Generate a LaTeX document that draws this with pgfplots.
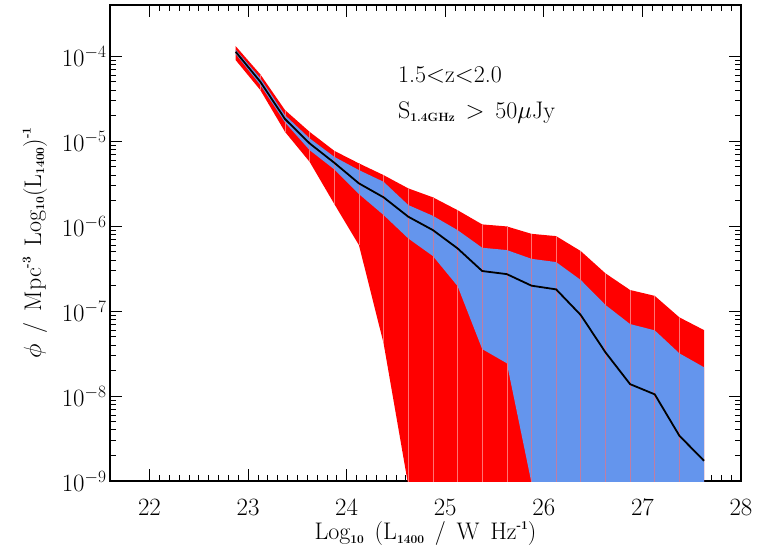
\documentclass[border=0pt]{standalone}
\usepackage{pgfplots}
\pgfplotsset{compat=1.18}
\usepackage{pgfplotstable}
\usepgfplotslibrary{fillbetween}
\definecolor{cblue}{RGB}{100,149,237}
\definecolor{seamr}{RGB}{255,115,115}
\definecolor{seamb}{RGB}{190,125,165}
\newcommand{\lsub}[1]{\raisebox{-0.3ex}{\fontsize{12}{12}\selectfont\bfseries #1}}
\newcommand{\lsup}[1]{\raisebox{1.0ex}{\fontsize{12}{12}\selectfont\bfseries #1}}
\newcommand{\lsp}{\hspace{0.45em}}

\pgfplotstableread{
x      rt        bt        bk        bb        rb
22.875 1.31e-4   1.19e-4   1.125e-4  1.06e-4   8.97e-5
23.125 6.10e-5   5.50e-5   4.99e-5   4.57e-5   3.98e-5
23.375 2.32e-5   2.02e-5   1.82e-5   1.66e-5   1.285e-5
23.625 1.285e-5  1.076e-5  9.40e-6   7.83e-6   5.70e-6
23.875 7.69e-6   6.53e-6   5.56e-6   4.65e-6   1.82e-6
24.125 5.47e-6   4.56e-6   3.18e-6   2.38e-6   5.97e-7
24.375 3.98e-6   3.32e-6   2.18e-6   1.35e-6   4.17e-8
24.625 2.78e-6   1.77e-6   1.29e-6   7.16e-7   8.9e-10
24.875 2.18e-6   1.32e-6   8.97e-7   4.44e-7   1e-12
25.125 1.54e-6   8.97e-7   5.47e-7   1.97e-7   1e-12
25.375 1.047e-6  5.56e-7   2.96e-7   3.57e-8   1e-12
25.625 9.91e-7   5.22e-7   2.72e-7   2.43e-8   1e-12
25.875 8.11e-7   4.12e-7   1.99e-7   9.5e-10   1e-12
26.125 7.62e-7   3.77e-7   1.80e-7   1e-12     1e-12
26.375 5.08e-7   2.32e-7   8.97e-8   1e-12     1e-12
26.625 2.78e-7   1.18e-7   3.27e-8   1e-12     1e-12
26.875 1.77e-7   7.03e-8   1.38e-8   1e-12     1e-12
27.125 1.51e-7   5.93e-8   1.047e-8  1e-12     1e-12
27.375 8.43e-8   3.18e-8   3.41e-9   1e-12     1e-12
27.625 5.97e-8   2.18e-8   1.73e-9   1e-12     1e-12
}\lf

\begin{document}
\begin{tikzpicture}
\begin{axis}[
  scale only axis, width=631pt, height=476pt,
  xmin=21.6, xmax=28, ymode=log, ymin=1e-9, ymax=4e-4,
  xtick={22,23,24,25,26,27,28}, minor x tick num=9,
  ytick={1e-9,1e-8,1e-7,1e-6,1e-5,1e-4},
  tick align=inside, major tick length=12pt, minor tick length=6pt,
  every tick/.style={black, line width=0.7pt},
  axis line style={line width=1.1pt},
  tick label style={font=\fontsize{24}{28}\selectfont},
  xticklabel style={anchor=center, yshift=-26pt},
  yticklabel style={xshift=0pt},
  label style={font=\fontsize{24}{28}\selectfont},
  xlabel={Log\lsub{10}\lsp(L\lsub{1400}\lsp/\lsp W\lsp Hz\lsup{-1})},
  xlabel style={at={(axis description cs:0.5,-0.111)}, anchor=center},
  ylabel={$\phi$\lsp/\lsp Mpc\lsup{-3}\lsp Log\lsub{10}(L\lsub{1400})\lsup{-1}},
  ylabel style={at={(axis description cs:-0.119,0.5)}, anchor=center},
  unbounded coords=jump,
  clip=true,
]
\addplot[draw=none, name path=rt, forget plot] table[x=x,y=rt]{\lf};
\addplot[draw=none, name path=rb, forget plot] table[x=x,y=rb]{\lf};
\addplot[fill=red, draw=none] fill between[of=rt and rb];
\addplot[seamr, line width=0.6pt] coordinates {
(23.125,3.98e-5) (23.125,6.10e-5) (23.125,nan)
(23.375,1.285e-5) (23.375,2.32e-5) (23.375,nan)
(23.625,5.70e-6) (23.625,1.285e-5) (23.625,nan)
(23.875,1.82e-6) (23.875,7.69e-6) (23.875,nan)
(24.125,5.97e-7) (24.125,5.47e-6) (24.125,nan)
(24.375,4.17e-8) (24.375,3.98e-6) (24.375,nan)
(24.625,8.9e-10) (24.625,2.78e-6) (24.625,nan)
(24.875,1e-10) (24.875,2.18e-6) (24.875,nan)
(25.125,1e-10) (25.125,1.54e-6) (25.125,nan)
(25.375,1e-10) (25.375,1.047e-6) (25.375,nan)
(25.625,1e-10) (25.625,9.91e-7) (25.625,nan)
(25.875,1e-10) (25.875,8.11e-7) (25.875,nan)
(26.125,1e-10) (26.125,7.62e-7) (26.125,nan)
(26.375,1e-10) (26.375,5.08e-7) (26.375,nan)
(26.625,1e-10) (26.625,2.78e-7) (26.625,nan)
(26.875,1e-10) (26.875,1.77e-7) (26.875,nan)
(27.125,1e-10) (27.125,1.51e-7) (27.125,nan)
(27.375,1e-10) (27.375,8.43e-8)
};
\addplot[draw=none, name path=bt, forget plot] table[x=x,y=bt]{\lf};
\addplot[draw=none, name path=bb, forget plot] table[x=x,y=bb]{\lf};
\addplot[fill=cblue, draw=none] fill between[of=bt and bb];
\addplot[seamb, line width=0.6pt] coordinates {
(23.125,4.57e-5) (23.125,5.50e-5) (23.125,nan)
(23.375,1.66e-5) (23.375,2.02e-5) (23.375,nan)
(23.625,7.83e-6) (23.625,1.076e-5) (23.625,nan)
(23.875,4.65e-6) (23.875,6.53e-6) (23.875,nan)
(24.125,2.38e-6) (24.125,4.56e-6) (24.125,nan)
(24.375,1.35e-6) (24.375,3.32e-6) (24.375,nan)
(24.625,7.16e-7) (24.625,1.77e-6) (24.625,nan)
(24.875,4.44e-7) (24.875,1.32e-6) (24.875,nan)
(25.125,1.97e-7) (25.125,8.97e-7) (25.125,nan)
(25.375,3.57e-8) (25.375,5.56e-7) (25.375,nan)
(25.625,2.43e-8) (25.625,5.22e-7) (25.625,nan)
(25.875,9.5e-10) (25.875,4.12e-7) (25.875,nan)
(26.125,1e-10) (26.125,3.77e-7) (26.125,nan)
(26.375,1e-10) (26.375,2.32e-7) (26.375,nan)
(26.625,1e-10) (26.625,1.18e-7) (26.625,nan)
(26.875,1e-10) (26.875,7.03e-8) (26.875,nan)
(27.125,1e-10) (27.125,5.93e-8) (27.125,nan)
(27.375,1e-10) (27.375,3.18e-8)
};
\addplot[black, line width=1.8pt] table[x=x,y=bk]{\lf};
\node[anchor=west, font=\fontsize{24}{28}\selectfont] at (rel axis cs:0.451,0.853) {1.5$<$z$<$2.0};
\node[anchor=west, font=\fontsize{24}{28}\selectfont] at (rel axis cs:0.451,0.775) {S\lsub{1.4GHz}\lsp$>$\lsp 50$\mu$Jy};
\end{axis}
\pgfresetboundingbox
\path ([xshift=-110pt,yshift=-68pt]current axis.south west) rectangle ([xshift=21pt,yshift=5pt]current axis.north east);
\end{tikzpicture}
\end{document}
